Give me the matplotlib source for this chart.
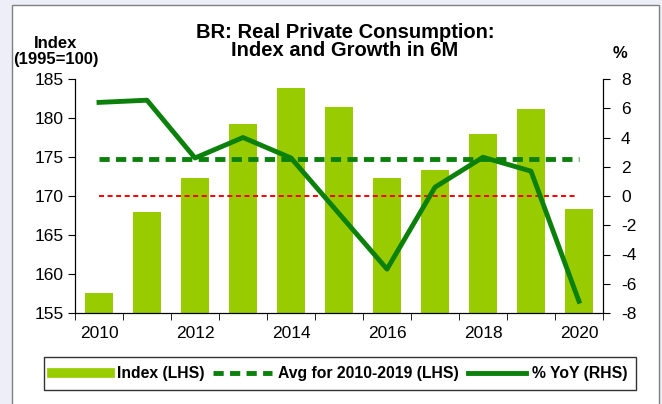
"""BR real private consumption: index (bars) and YoY growth (line), 6M data."""

import matplotlib.pyplot as plt
from matplotlib.lines import Line2D
from matplotlib.patches import Rectangle

plt.rcParams["font.family"] = ["Liberation Sans", "DejaVu Sans"]
plt.rcParams["axes.unicode_minus"] = False

years = ["2010", "2011", "2012", "2013", "2014", "2015",
         "2016", "2017", "2018", "2019", "2020"]
index_lhs = [157.6, 167.9, 172.3, 179.2, 183.8, 181.4,
             172.3, 173.3, 178.0, 181.1, 168.3]
yoy_rhs = [6.4, 6.55, 2.6, 4.0, 2.6, -1.2, -5.0, 0.6, 2.65, 1.7, -7.2]
avg_2010_2019 = 174.7

BAR_GREEN = "#99cc00"
LINE_GREEN = "#0b800b"

fig = plt.figure(figsize=(6.62, 4.04), dpi=100)
fig.patch.set_facecolor("#eeeef8")
# white panel with a grey frame, like the pasted chart object
fig.patches.append(Rectangle((12 / 662, -0.01), 647 / 662, 1 - 5 / 404 + 0.01,
                             transform=fig.transFigure, facecolor="white",
                             edgecolor="#808080", linewidth=1.0, zorder=-5))

ax = fig.add_axes([75 / 662, 1 - 313 / 404, 528 / 662, 234 / 404])
ax.set_facecolor("none")
x = list(range(len(years)))

ax.bar(x, index_lhs, width=0.6, color=BAR_GREEN, zorder=2)
ax.plot([x[0], x[-1]], [avg_2010_2019] * 2, color=LINE_GREEN, linewidth=3.5,
        dashes=(2.1, 1.3), zorder=3)
ax.set_ylim(155, 185)
ax.set_yticks(range(155, 186, 5))
ax.set_xlim(-0.5, len(years) - 0.5)
ax.set_xticks(x[::2])
ax.set_xticklabels(years[::2])
ax.set_xticks([i - 0.5 for i in range(len(years) + 1)], minor=True)
ax.tick_params(axis="x", which="major", length=0, pad=9, labelsize=12.5)
ax.tick_params(axis="x", which="minor", length=5, direction="out")
ax.tick_params(axis="y", length=5, direction="out", labelsize=12.5, pad=3)
ax.spines["top"].set_visible(False)

ax2 = ax.twinx()
ax2.plot([x[0], x[-1] - 0.05], [0, 0], color="red", linewidth=1.4,
         dashes=(2.6, 1.8), zorder=2)
ax2.plot(x, yoy_rhs, color=LINE_GREEN, linewidth=3.5, zorder=4)
ax2.set_ylim(-8, 8)
ax2.set_yticks(range(-8, 9, 2))
ax2.tick_params(axis="y", length=5, direction="out", labelsize=12.5, pad=8)
ax2.spines["top"].set_visible(False)

fig.text(345 / 662, 1 - 23 / 404,
         "BR: Real Private Consumption:\nIndex and Growth in 6M",
         ha="center", va="top", fontsize=14.5, fontweight="bold", linespacing=0.95)
fig.text(56 / 662, 1 - 36 / 404, "Index\n(1995=100)", ha="center", va="top",
         fontsize=12, fontweight="bold", linespacing=1.1)
fig.text(620 / 662, 1 - 53 / 404, "%", ha="center", va="center",
         fontsize=12, fontweight="bold")

handles = [
    Line2D([], [], color=BAR_GREEN, linewidth=7),
    Line2D([], [], color=LINE_GREEN, linewidth=3.5, dashes=(2.1, 1.3)),
    Line2D([], [], color=LINE_GREEN, linewidth=3.5),
]
labels = ["Index (LHS)", "Avg for 2010-2019 (LHS)", "% YoY (RHS)"]
leg = fig.legend(handles, labels, loc="center", ncol=3,
                 bbox_to_anchor=(340 / 662, 1 - 373.5 / 404),
                 prop={"weight": "bold", "size": 11.3}, frameon=True,
                 fancybox=False, edgecolor="black", handlelength=3.7,
                 handletextpad=0.4, columnspacing=0.6, borderpad=0.55)
leg.get_frame().set_linewidth(1.0)

fig.savefig("out.png", dpi=100)
